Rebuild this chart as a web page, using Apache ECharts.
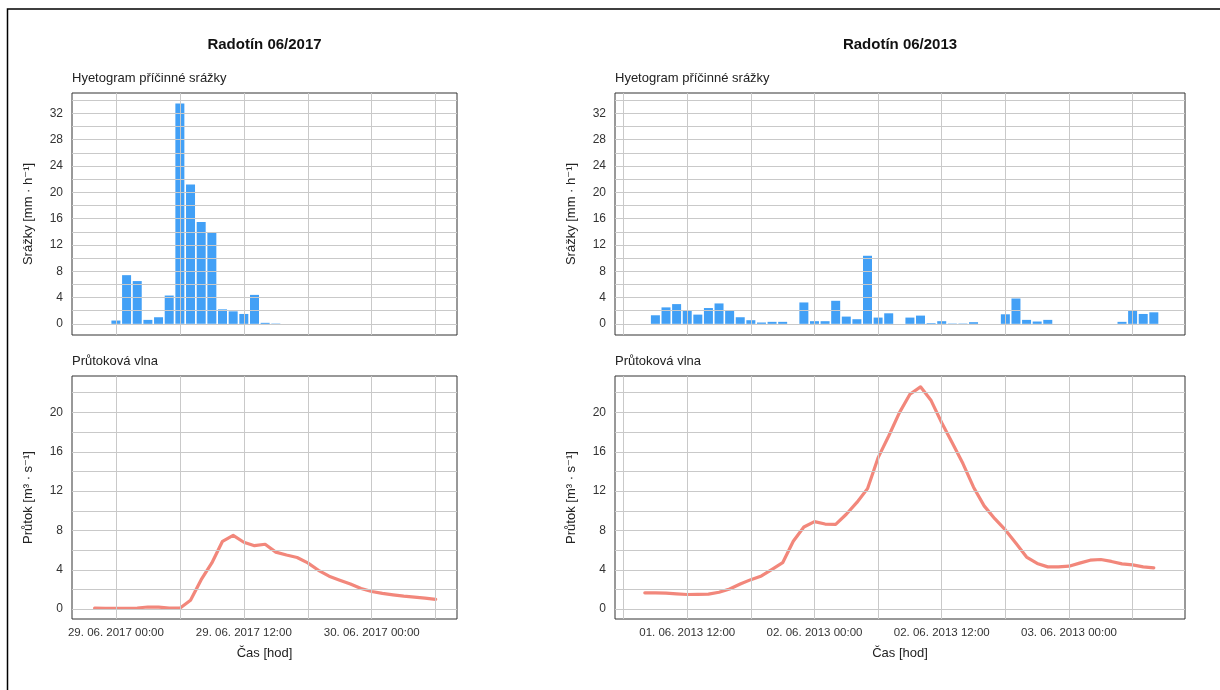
<!DOCTYPE html>
<html>
<head>
<meta charset="utf-8">
<script src="https://cdn.jsdelivr.net/npm/echarts@6/dist/echarts.min.js"></script>
<style>
html,body{margin:0;padding:0;background:#fff;}
#chart{width:1220px;height:690px;}
</style>
</head>
<body>
<div id="chart"></div>
<script>
// ---- Radotín 06/2017 (hours relative to 29. 06. 2017 00:00) ----
const rainHours2017 = [0,1,2,3,4,5,6,7,8,9,10,11,12,13,14,15];
const rain2017 = [0.5,7.4,6.5,0.6,1.0,4.3,33.5,21.2,15.5,13.9,2.2,1.9,1.5,4.4,0.15,0.05];
const flowHours2017 = [-2,-1,0,1,2,3,4,5,6,7,8,9,10,11,12,13,14,15,16,17,18,19,20,21,22,23,24,25,26,27,28,29,30];
const flow2017 = [0.1,0.08,0.07,0.07,0.12,0.22,0.2,0.12,0.1,0.9,3.0,4.7,6.9,7.5,6.8,6.45,6.6,5.8,5.5,5.25,4.7,3.95,3.35,2.95,2.55,2.1,1.8,1.6,1.45,1.32,1.22,1.12,1.0];
const xTickHours2017 = [0,12,24];
const xTickLabels2017 = ['29. 06. 2017 00:00','29. 06. 2017 12:00','30. 06. 2017 00:00'];

// ---- Radotín 06/2013 (hours relative to 02. 06. 2013 00:00) ----
const rainHours2013 = [-15,-14,-13,-12,-11,-10,-9,-8,-7,-6,-5,-4,-3,-2,-1,0,1,2,3,4,5,6,7,8,9,10,11,12,13,14,15,16,17,18,19,20,21,22,23,24,25,26,27,28,29,30,31,32];
const rain2013 = [1.3,2.5,3.0,2.0,1.4,2.4,3.1,2.0,1.0,0.55,0.2,0.3,0.3,0,3.25,0.4,0.4,3.5,1.1,0.7,10.35,0.95,1.6,0,0.95,1.25,0.1,0.4,0.05,0.05,0.25,0,0,1.45,3.85,0.6,0.35,0.6,0,0,0,0,0,0,0.3,2.1,1.5,1.75];
const flowHours2013 = [-16,-15,-14,-13,-12,-11,-10,-9,-8,-7,-6,-5,-4,-3,-2,-1,0,1,2,3,4,5,6,7,8,9,10,11,12,13,14,15,16,17,18,19,20,21,22,23,24,25,26,27,28,29,30,31,32];
const flow2013 = [1.66,1.65,1.63,1.55,1.49,1.5,1.53,1.72,2.05,2.55,3.0,3.38,4.05,4.72,6.9,8.35,8.9,8.65,8.62,9.65,10.85,12.25,15.4,17.6,19.95,21.85,22.6,21.2,18.95,16.9,14.8,12.4,10.5,9.2,8.05,6.7,5.3,4.65,4.3,4.3,4.37,4.68,4.98,5.05,4.85,4.6,4.5,4.3,4.2];
const xTickHours2013 = [-12,0,12,24];
const xTickLabels2013 = ['01. 06. 2013 12:00','02. 06. 2013 00:00','02. 06. 2013 12:00','03. 06. 2013 00:00'];

// ---- tick labels / grid values ----
const rainTicks = [0,4,8,12,16,20,24,28,32];
const rainGrid = [0,2,4,6,8,10,12,14,16,18,20,22,24,26,28,30,32,34];
const flowTicks = [0,4,8,12,16,20];
const flowGrid = [0,2,4,6,8,10,12,14,16,18,20,22];
const vGrid2017 = [0,6,12,18,24,30];
const vGrid2013 = [-18,-12,-6,0,6,12,18,24,30];

const titles = ['Radotín 06/2017','Radotín 06/2013'];
const subTop = 'Hyetogram příčinné srážky';
const subBottom = 'Průtoková vlna';
const yNameTop = 'Srážky [mm · h⁻¹]';
const yNameBottom = 'Průtok [m³ · s⁻¹]';
const xName = 'Čas [hod]';

const FONT = '"Liberation Sans", Arial, "DejaVu Sans", sans-serif';
const TXT = '#333333';

function zip(xs, ys){ return xs.map((x,i)=>[x, ys[i]]); }

const L = {x:72, w:385}, R = {x:615, w:570};
const T = {y:93, h:242}, B = {y:376, h:243};

const grids = [
  {left:L.x, top:T.y, width:L.w, height:T.h},
  {left:R.x, top:T.y, width:R.w, height:T.h},
  {left:L.x, top:B.y, width:L.w, height:B.h},
  {left:R.x, top:B.y, width:R.w, height:B.h}
].map(g => Object.assign(g, {show:true, borderColor:'#333', borderWidth:1, backgroundColor:'transparent', containLabel:false}));

function xAx(gi, min, max, ticks, labels){
  const show = !!ticks;
  return {
    type:'value', gridIndex:gi, min:min, max:max,
    axisLine:{show:false},
    splitLine:{show:false},
    axisTick:{show:show, customValues:ticks||[], length:4, lineStyle:{color:'#333'}},
    axisLabel:{show:show, customValues:ticks||[], margin:8, color:TXT, fontSize:11.5, fontFamily:FONT,
      formatter:function(v){ if(!ticks) return ''; const i = ticks.indexOf(v); return i>=0 ? labels[i] : ''; }},
    name: show ? xName : '', nameLocation:'middle', nameGap:28,
    nameTextStyle:{color:'#222', fontSize:13, fontFamily:FONT}
  };
}
function yAx(gi, min, max, ticks, name){
  return {
    type:'value', gridIndex:gi, min:min, max:max,
    axisLine:{show:false},
    splitLine:{show:false},
    axisTick:{show:true, customValues:ticks, length:4, lineStyle:{color:'#333'}},
    axisLabel:{customValues:ticks, margin:9, color:TXT, fontSize:12, fontFamily:FONT},
    name:name, nameLocation:'middle', nameGap:37, nameRotate:90,
    nameTextStyle:{color:'#222', fontSize:13, fontFamily:FONT}
  };
}

function gridSeries(gi, hVals, vVals){
  return {
    type:'line', xAxisIndex:gi, yAxisIndex:gi, data:[], z:1, silent:true,
    markLine:{
      silent:true, symbol:['none','none'], animation:false,
      label:{show:false},
      lineStyle:{color:'#c9c9c9', width:1, type:'solid'},
      emphasis:{disabled:true},
      data: hVals.map(v=>({yAxis:v})).concat(vVals.map(v=>({xAxis:v})))
    }
  };
}

const BAR = '#42a0f6';
const LINE = '#f2877b';

const option = {
  animation:false,
  backgroundColor:'#ffffff',
  textStyle:{fontFamily:FONT},
  title:[
    {text:titles[0], left:L.x + L.w/2, top:37, textAlign:'center', padding:0,
     textStyle:{fontSize:15, fontWeight:'bold', color:'#111', fontFamily:FONT}},
    {text:titles[1], left:R.x + R.w/2, top:37, textAlign:'center', padding:0,
     textStyle:{fontSize:15, fontWeight:'bold', color:'#111', fontFamily:FONT}},
    {text:subTop, left:L.x, top:72, padding:0, textStyle:{fontSize:13, fontWeight:'normal', color:'#222', fontFamily:FONT}},
    {text:subTop, left:R.x, top:72, padding:0, textStyle:{fontSize:13, fontWeight:'normal', color:'#222', fontFamily:FONT}},
    {text:subBottom, left:L.x, top:355, padding:0, textStyle:{fontSize:13, fontWeight:'normal', color:'#222', fontFamily:FONT}},
    {text:subBottom, left:R.x, top:355, padding:0, textStyle:{fontSize:13, fontWeight:'normal', color:'#222', fontFamily:FONT}}
  ],
  grid:grids,
  xAxis:[
    xAx(0, -4.12, 32.0, null, null),
    xAx(1, -18.81, 34.94, null, null),
    xAx(2, -4.12, 32.0, xTickHours2017, xTickLabels2017),
    xAx(3, -18.81, 34.94, xTickHours2013, xTickLabels2013)
  ],
  yAxis:[
    yAx(0, -1.7, 35.1, rainTicks, yNameTop),
    yAx(1, -1.7, 35.1, rainTicks, yNameTop),
    yAx(2, -1.0, 23.7, flowTicks, yNameBottom),
    yAx(3, -1.0, 23.7, flowTicks, yNameBottom)
  ],
  series:[
    gridSeries(0, rainGrid, vGrid2017),
    gridSeries(1, rainGrid, vGrid2013),
    gridSeries(2, flowGrid, vGrid2017),
    gridSeries(3, flowGrid, vGrid2013),
    {type:'bar', xAxisIndex:0, yAxisIndex:0, z:3, barWidth:9, data:zip(rainHours2017, rain2017),
     itemStyle:{color:BAR}},
    {type:'bar', xAxisIndex:1, yAxisIndex:1, z:3, barWidth:9, data:zip(rainHours2013, rain2013),
     itemStyle:{color:BAR}},
    {type:'line', xAxisIndex:2, yAxisIndex:2, z:3, showSymbol:false, smooth:false, data:zip(flowHours2017, flow2017),
     lineStyle:{color:LINE, width:3.2, cap:'round', join:'round'}},
    {type:'line', xAxisIndex:3, yAxisIndex:3, z:3, showSymbol:false, smooth:false, data:zip(flowHours2013, flow2013),
     lineStyle:{color:LINE, width:3.2, cap:'round', join:'round'}}
  ],
  graphic:[
    {type:'rect', shape:{x:7.5, y:9, width:1400, height:900}, style:{fill:null, stroke:'#000', lineWidth:1.5}, silent:true, z:100}
  ]
};

const chart = echarts.init(document.getElementById('chart'), null, {renderer:'canvas'});
chart.setOption(option);
</script>
</body>
</html>
